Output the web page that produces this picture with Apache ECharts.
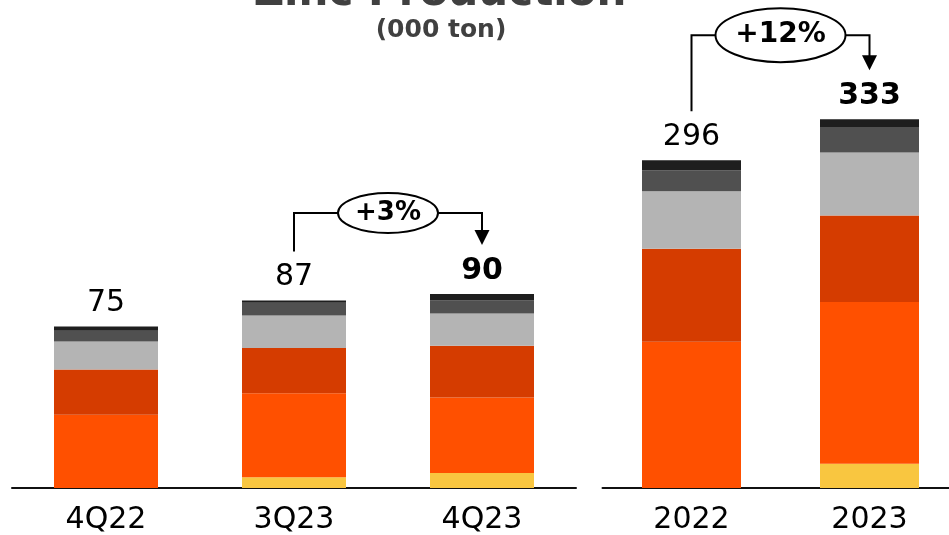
<!DOCTYPE html>
<html>
<head>
<meta charset="utf-8">
<script src="https://cdn.jsdelivr.net/npm/echarts@6/dist/echarts.min.js"></script>
<style>
html,body{margin:0;padding:0;background:#fff;}
#chart{width:949px;height:535px;}
</style>
</head>
<body>
<div id="chart"></div>
<script>
// ---- data ----
const quarterCats = ['4Q22', '3Q23', '4Q23'];
const yearCats = ['2022', '2023'];
const segmentNames = ['Segment 1', 'Segment 2', 'Segment 3', 'Segment 4', 'Segment 5', 'Segment 6'];

// quarterly (000 ton), bottom to top
const q_seg1 = [0, 5, 7];
const q_seg2 = [34, 39, 35];
const q_seg3 = [21, 21, 24];
const q_seg4 = [13, 15, 15];
const q_seg5 = [5, 6, 6];
const q_seg6 = [2, 1, 3];

// annual (000 ton), bottom to top
const y_seg1 = [0, 22];
const y_seg2 = [132, 146];
const y_seg3 = [84, 78];
const y_seg4 = [52, 57];
const y_seg5 = [19, 23];
const y_seg6 = [9, 7];

const quarterBold = [false, false, true];
const yearBold = [false, true];

const changeQ = '+3%';
const changeY = '+12%';

// ---- styles ----
const colors = ['#F9C640', '#FF5000', '#D53C00', '#B4B4B4', '#505050', '#1E1E1E'];
const FONT = '"DejaVu Sans", Verdana, sans-serif';

const qSegs = [q_seg1, q_seg2, q_seg3, q_seg4, q_seg5, q_seg6];
const ySegs = [y_seg1, y_seg2, y_seg3, y_seg4, y_seg5, y_seg6];
const sumCols = segs => segs[0].map((_, i) => segs.reduce((a, s) => a + s[i], 0));
const qTotals = sumCols(qSegs);
const yTotals = sumCols(ySegs);

function buildSeries(segs, totals, bold, axisIdx, stackName, barWidth) {
  return segs.map((vals, k) => {
    const isTop = k === segs.length - 1;
    return {
      name: segmentNames[k],
      type: 'bar',
      stack: stackName,
      xAxisIndex: axisIdx,
      yAxisIndex: axisIdx,
      barWidth: barWidth,
      itemStyle: { color: colors[k] },
      data: vals.map((v, i) => {
        const d = { value: v };
        if (isTop) {
          d.label = {
            show: true,
            position: 'top',
            distance: 8,
            formatter: String(totals[i]),
            fontFamily: FONT,
            fontSize: 30,
            fontWeight: bold[i] ? 'bold' : 'normal',
            color: '#000'
          };
        }
        return d;
      })
    };
  });
}

const axisCommon = {
  type: 'category',
  axisTick: { show: false },
  axisLine: { lineStyle: { color: '#111', width: 2 } },
  axisLabel: { fontFamily: FONT, fontSize: 30, color: '#000', margin: 17 }
};

const chart = echarts.init(document.getElementById('chart'), null, { renderer: 'canvas' });

const option = {
  animation: false,
  backgroundColor: '#fff',
  grid: [
    { left: 12, width: 564, top: 57, bottom: 47, outerBoundsMode: 'none', containLabel: false },
    { left: 602.5, width: 356, top: 45, bottom: 47, outerBoundsMode: 'none', containLabel: false }
  ],
  xAxis: [
    Object.assign({ gridIndex: 0, data: quarterCats }, axisCommon),
    Object.assign({ gridIndex: 1, data: yearCats }, axisCommon)
  ],
  yAxis: [
    { gridIndex: 0, type: 'value', min: 0, max: 200, show: false },
    { gridIndex: 1, type: 'value', min: 0, max: 400, show: false }
  ],
  series: [].concat(
    buildSeries(qSegs, qTotals, quarterBold, 0, 'q', 104),
    buildSeries(ySegs, yTotals, yearBold, 1, 'y', 99)
  )
};
chart.setOption(option);

// ---- annotations (title + change brackets), positioned from the axes ----
function bracket(axisIdx, cats, totals, from, to, text, rx, ry, lift, fontSize) {
  const p1 = chart.convertToPixel({ xAxisIndex: axisIdx, yAxisIndex: axisIdx }, [cats[from], totals[from]]);
  const p2 = chart.convertToPixel({ xAxisIndex: axisIdx, yAxisIndex: axisIdx }, [cats[to], totals[to]]);
  const yb = Math.min(p1[1], p2[1]) - lift;
  const cx = (p1[0] + p2[0]) / 2;
  const startY = p1[1] - 49;
  const tipY = p2[1] - 49;
  const ls = { stroke: '#000', lineWidth: 2 };
  return [
    { type: 'polyline', shape: { points: [[p1[0], startY], [p1[0], yb], [cx - rx, yb]] }, style: Object.assign({ fill: null }, ls), z: 10 },
    { type: 'polyline', shape: { points: [[cx + rx, yb], [p2[0], yb], [p2[0], tipY - 14]] }, style: Object.assign({ fill: null }, ls), z: 10 },
    { type: 'polygon', shape: { points: [[p2[0] - 7.5, tipY - 15], [p2[0] + 7.5, tipY - 15], [p2[0], tipY]] }, style: { fill: '#000' }, z: 10 },
    { type: 'ellipse', shape: { cx: cx, cy: yb, rx: rx, ry: ry }, style: { fill: '#fff', stroke: '#000', lineWidth: 2 }, z: 11 },
    { type: 'text', x: cx, y: yb, style: { text: text, font: 'bold ' + fontSize + 'px ' + FONT, fill: '#000', align: 'center', verticalAlign: 'middle', textAlign: 'center', textVerticalAlign: 'middle' }, z: 12 }
  ];
}

const graphics = [
  { type: 'text', x: 440, y: -6, style: { text: 'Zinc Production', font: 'bold 42px ' + FONT, fill: '#404040', align: 'center', verticalAlign: 'middle', textAlign: 'center', textVerticalAlign: 'middle' }, z: 20 },
  { type: 'text', x: 441, y: 30, style: { text: '(000 ton)', font: 'bold 25px ' + FONT, fill: '#404040', align: 'center', verticalAlign: 'middle', textAlign: 'center', textVerticalAlign: 'middle' }, z: 20 }
].concat(
  bracket(0, quarterCats, qTotals, 1, 2, changeQ, 50, 20, 81, 26),
  bracket(1, yearCats, yTotals, 0, 1, changeY, 65, 27, 84, 28)
);

chart.setOption({ graphic: { elements: graphics } });
</script>
</body>
</html>
